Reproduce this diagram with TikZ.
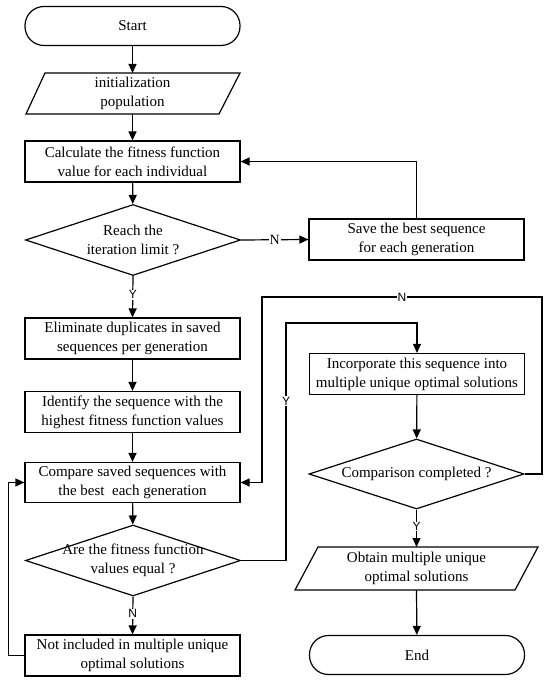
\documentclass[tikz,border=0pt]{standalone}
\usepackage{fontspec}
\setmainfont{Liberation Serif}
\newfontfamily\lblfont{Liberation Sans}
\usetikzlibrary{arrows.meta,shapes.geometric}
\begin{document}
\begin{tikzpicture}[x=1pt,y=-1pt,
  txtfont/.style={font=\fontsize{15}{19}\selectfont},
  every node/.style={txtfont},
  arr/.style={line width=1.2pt,-{Triangle[length=9pt,width=8pt]}},
  procbox/.style={draw,line width=1.2pt,minimum width=215pt,minimum height=41pt,align=center,inner sep=0pt},
  term/.style={draw,line width=1.2pt,minimum width=215pt,minimum height=39pt,rounded corners=19pt,inner sep=0pt},
  iobox/.style={minimum width=200pt,minimum height=41pt,align=center,inner sep=0pt},
  decis/.style={draw,line width=1.2pt,diamond,inner sep=0pt,minimum width=215pt,minimum height=71pt,aspect=3},
  yn/.style={fill=white,inner sep=0.8pt,font=\lblfont\fontsize{12}{13}\selectfont}
]
\useasboundingbox (0,0) rectangle (550,684);
% nodes
\node[term] (start) at (132.5,26) {Start};
\node[iobox] (init) at (132.5,93.5) {initialization\\population};
\draw[line width=1.2pt] (45,73) -- (240,73) -- (219,114) -- (26,114) -- cycle;
\node[procbox] (calc) at (132.5,161.5) {Calculate the fitness function\\value for each individual};
\node[decis,label={[align=center,txtfont]center:Reach the\\iteration limit ?}] (d1) at (133,240) {};
\node[procbox] (save) at (416.5,239.5) {Save the best sequence\\for each generation};
\node[procbox] (elim) at (132.5,338.5) {Eliminate duplicates in saved\\sequences per generation};
\node[procbox] (ident) at (132.5,412) {Identify the sequence with the\\highest fitness function values};
\node[procbox,minimum height=40pt] (comp) at (132.5,482.5) {Compare saved sequences with\\the best\ \ each generation};
\node[decis,label={[align=center,txtfont]center:Are the fitness function\\values equal ?}] (d2) at (133,560.5) {};
\node[procbox] (notinc) at (132.5,655.5) {Not included in multiple unique\\optimal solutions};
\node[procbox] (incorp) at (417,374) {Incorporate this sequence into\\multiple unique optimal solutions};
\node[decis,minimum height=70pt,label={[txtfont]center:Comparison completed ?}] (d3) at (416.5,474) {};
\node[iobox] (obtain) at (416.5,568.5) {Obtain multiple unique\\optimal solutions};
\draw[line width=1.2pt] (318,547) -- (538,547) -- (515,590) -- (295,590) -- cycle;
\node[term] (end) at (417,655) {End};
% coordinates
\coordinate (initT) at (132.5,73);
\coordinate (initB) at (132.5,114);
\coordinate (obtT) at (416.5,547);
\coordinate (obtB) at (416.5,590);
% connectors
\draw[arr] (start) -- (initT);
\draw[arr] (initB) -- (calc);
\draw[arr] (calc) -- (d1);
\draw[arr] (d1.east) -- node[yn,font=\fontsize{14}{15}\selectfont]{N} (save.west);
\draw[arr] (save.north) |- (calc.east);
\draw[arr] (d1.south) -- node[yn,pos=0.45]{Y} (elim.north);
\draw[arr] (elim) -- (ident);
\draw[arr] (ident) -- (comp);
\draw[arr] (comp) -- (d2);
\draw[arr] (d2.south) -- node[yn,pos=0.45]{N} (notinc.north);
\draw[arr] (notinc.west) -- ++(-16,0) |- (comp.west);
\draw[arr] (d2.east) -- (286,560.5) -- node[yn,pos=0.67]{Y} (286,323) -| (incorp.north);
\draw[arr] (incorp) -- (d3);
\draw[arr] (d3.east) -- (542,474) -- (542,297) -- node[yn]{N} (262,297) |- (comp.east);
\draw[arr] (d3.south) -- node[yn,pos=0.45]{Y} (obtT);
\draw[arr] (obtB) -- (end);
\end{tikzpicture}
\end{document}
